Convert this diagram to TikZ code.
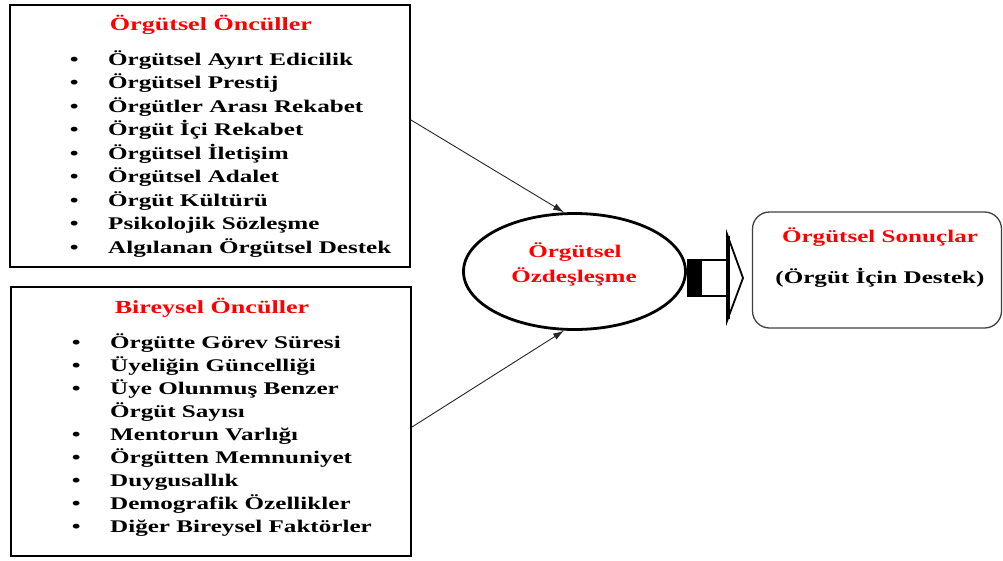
\documentclass[tikz,border=0pt]{standalone}
\usepackage{fontspec}
\setmainfont{Liberation Serif}[FakeStretch=1.41]
\usetikzlibrary{arrows.meta,shapes.geometric}
\newcommand{\blt}{\makebox[68pt][c]{•}}
\begin{document}
\begin{tikzpicture}[x=1pt,y=-1pt,
  txt/.style={font=\fontsize{17.8}{23.5}\selectfont\bfseries, inner sep=0pt},
  ttl/.style={txt, text=red, anchor=base},
  frame/.style={draw, line width=2.6pt, minimum width=400pt, inner sep=0pt},
  conn/.style={draw=black!85, line width=0.9pt, -{Latex[length=11pt,width=7pt]}}]
\useasboundingbox (0,0) rectangle (1003,560);

% antecedent boxes
\node[frame, minimum height=262pt] (tb) at (210,136) {};
\node[frame, minimum height=269pt] (bb) at (211,421.5) {};

\node[ttl, font=\fontsize{18.5}{23.5}\selectfont\bfseries] (tbt) at (211,30) {Örgütsel Öncüller};
\node[txt, anchor=base west] (tbl) at (40,65) {\begin{tabular}[t]{@{}l@{}l@{}}
\blt & Örgütsel Ayırt Edicilik\\
\blt & Örgütsel Prestij\\
\blt & Örgütler Arası Rekabet\\
\blt & Örgüt İçi Rekabet\\
\blt & Örgütsel İletişim\\
\blt & Örgütsel Adalet\\
\blt & Örgüt Kültürü\\
\blt & Psikolojik Sözleşme\\
\blt & Algılanan Örgütsel Destek
\end{tabular}};

\node[ttl, font=\fontsize{18.5}{23.5}\selectfont\bfseries] (bbt) at (212,313) {Bireysel Öncüller};
\node[txt, font=\fontsize{17.8}{23.1}\selectfont\bfseries, anchor=base west] (bbl) at (42,348) {\begin{tabular}[t]{@{}l@{}l@{}}
\blt & Örgütte Görev Süresi\\
\blt & Üyeliğin Güncelliği\\
\blt & Üye Olunmuş Benzer\\
     & Örgüt Sayısı\\
\blt & Mentorun Varlığı\\
\blt & Örgütten Memnuniyet\\
\blt & Duygusallık\\
\blt & Demografik Özellikler\\
\blt & Diğer Bireysel Faktörler
\end{tabular}};

% identification ellipse
\node[ellipse, draw, line width=2.8pt, minimum width=222pt, minimum height=116pt, inner sep=0pt] (ell) at (574.5,271.5) {};
\node[ttl] (ell1) at (575,257) {Örgütsel};
\node[ttl] (ell2) at (574,282) {Özdeşleşme};

% connectors into the ellipse
\coordinate (c1) at (411,120);
\coordinate (c2) at (412,427);
\draw[conn] (c1) -- (ell.100);
\draw[conn] (c2) -- (ell.260);

% block arrow towards the outcomes
\fill (688,260) rectangle (702,296);
\draw[line width=1.8pt, line join=miter] (688,260) -- (727,260) -- (727,234) -- (743,278) -- (727,321) -- (727,296) -- (688,296) -- cycle;
\draw[line width=4pt] (727.5,236) -- (727.5,319);

% outcomes box
\node[draw=black!75, line width=1.3pt, rounded corners=17pt, minimum width=249pt, minimum height=116pt, inner sep=0pt] (rb) at (877,270) {};
\node[ttl] (rb1) at (880,242) {Örgütsel Sonuçlar};
\node[txt, anchor=base] (rb2) at (880,283) {(Örgüt İçin Destek)};
\end{tikzpicture}
\end{document}
